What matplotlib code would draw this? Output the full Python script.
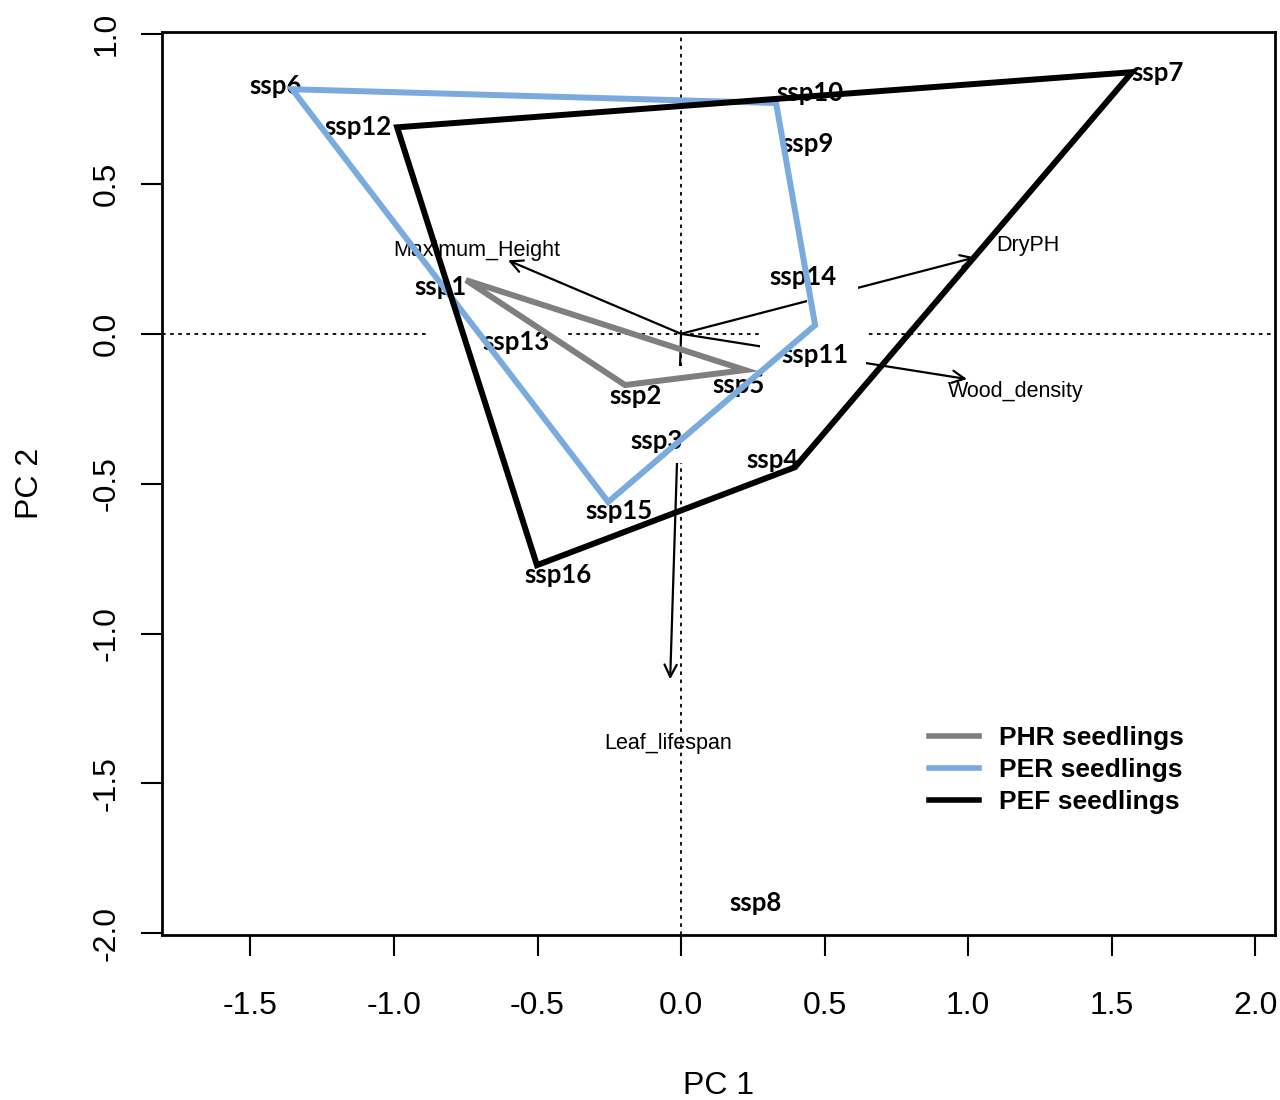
import matplotlib
matplotlib.use("Agg")
import matplotlib.pyplot as plt
from matplotlib.lines import Line2D
from matplotlib.patches import Rectangle

plt.rcParams['axes.unicode_minus'] = False
plt.rcParams['font.family'] = ['Liberation Sans', 'DejaVu Sans']

# species scores (label positions, PC1 / PC2)
species = ["ssp1", "ssp2", "ssp3", "ssp4", "ssp5", "ssp6", "ssp7", "ssp8",
           "ssp9", "ssp10", "ssp11", "ssp12", "ssp13", "ssp14", "ssp15", "ssp16"]
pc1 = [-0.839, -0.157, -0.087, 0.320, 0.199, -1.411, 1.661, 0.258,
       0.442, 0.449, 0.467, -1.125, -0.575, 0.425, -0.216, -0.428]
pc2 = [0.156, -0.208, -0.358, -0.421, -0.171, 0.827, 0.870, -1.900,
       0.633, 0.803, -0.071, 0.690, -0.028, 0.189, -0.592, -0.805]

# convex hulls per habitat
phr_x = [-0.749, 0.223, -0.195]
phr_y = [0.179, -0.121, -0.171]
per_x = [-1.355, 0.331, 0.467, -0.254]
per_y = [0.816, 0.770, 0.029, -0.561]
pef_x = [-0.989, 1.571, 0.397, -0.502]
pef_y = [0.689, 0.873, -0.445, -0.772]

# trait loadings (arrow tips) and label positions
traits = ["Maximum_Height", "DryPH", "Wood_density", "Leaf_lifespan"]
load_x = [-0.603, 1.024, 0.996, -0.038]
load_y = [0.245, 0.255, -0.151, -1.153]
tlab_x = [-0.711, 1.209, 1.167, -0.045]
tlab_y = [0.279, 0.296, -0.191, -1.366]

groups = ["PHR seedlings", "PER seedlings", "PEF seedlings"]
colors = ["#7f7f7f", "#7aaade", "#000000"]

fig = plt.figure(figsize=(12.8, 11), dpi=100)
ax = fig.add_axes([0.1266, 0.15, 0.8695, 0.8209])

ax.set_xlim(-1.808, 2.069)
ax.set_ylim(-2.006, 1.007)

# reference lines through the origin
ax.axhline(0, color="black", lw=1.3, ls=(0, (2, 2.5)), zorder=2)
ax.axvline(0, color="black", lw=1.3, ls=(0, (2, 2.5)), zorder=2)

# trait arrows
for name, lx, ly, tx, ty in zip(traits, load_x, load_y, tlab_x, tlab_y):
    ax.annotate("", xy=(lx, ly), xytext=(0, 0),
                arrowprops=dict(arrowstyle="->", color="black", lw=1.6,
                                mutation_scale=22, shrinkA=0, shrinkB=0),
                zorder=2)
    ax.text(tx, ty, name, ha="center", va="center", fontsize=15.5, zorder=1)

# white patches that hide parts of the guide lines in the original
masks = [(-0.874, -0.054, 0.480, 0.106),
         (0.439, 0.095, 0.178, 0.084),
         (0.275, -0.114, 0.369, 0.176),
         (-0.045, -0.432, 0.090, 0.324)]
for mx, my, mw, mh in masks:
    ax.add_patch(Rectangle((mx, my), mw, mh, facecolor="white",
                           edgecolor="none", zorder=3))

# species labels
for s, x, y in zip(species, pc1, pc2):
    ax.text(x, y, s, ha="center", va="center", fontsize=18.5,
            fontweight="bold", family=["Lato", "DejaVu Sans"], zorder=4)

# hulls
for hx, hy, c in zip([phr_x, per_x, pef_x], [phr_y, per_y, pef_y], colors):
    ax.fill(hx, hy, facecolor="none", edgecolor=c, lw=4.3, zorder=5)

handles = [Line2D([], [], color=c, lw=4) for c in colors]
ax.legend(handles, groups, loc="upper left", bbox_to_anchor=(0.677, 0.246),
          frameon=False, borderpad=0, handlelength=1.9, handletextpad=0.75,
          labelspacing=0.3, prop=dict(size=19, weight="bold"))

ax.set_xticks([-1.5, -1.0, -0.5, 0.0, 0.5, 1.0, 1.5, 2.0])
ax.set_xticklabels(["-1.5", "-1.0", "-0.5", "0.0", "0.5", "1.0", "1.5", "2.0"])
ax.set_yticks([-2.0, -1.5, -1.0, -0.5, 0.0, 0.5, 1.0])
ax.set_yticklabels(["-2.0", "-1.5", "-1.0", "-0.5", "0.0", "0.5", "1.0"],
                   rotation=90, va="center")
ax.tick_params(axis="both", direction="out", length=15, width=1.5, labelsize=23)
ax.tick_params(axis="x", pad=25)
ax.tick_params(axis="y", pad=14)
for sp in ax.spines.values():
    sp.set_linewidth(2)

ax.set_xlabel("PC 1", fontsize=23, labelpad=36)
ax.set_ylabel("PC 2", fontsize=23, labelpad=34)

plt.savefig("out.png", dpi=100)
